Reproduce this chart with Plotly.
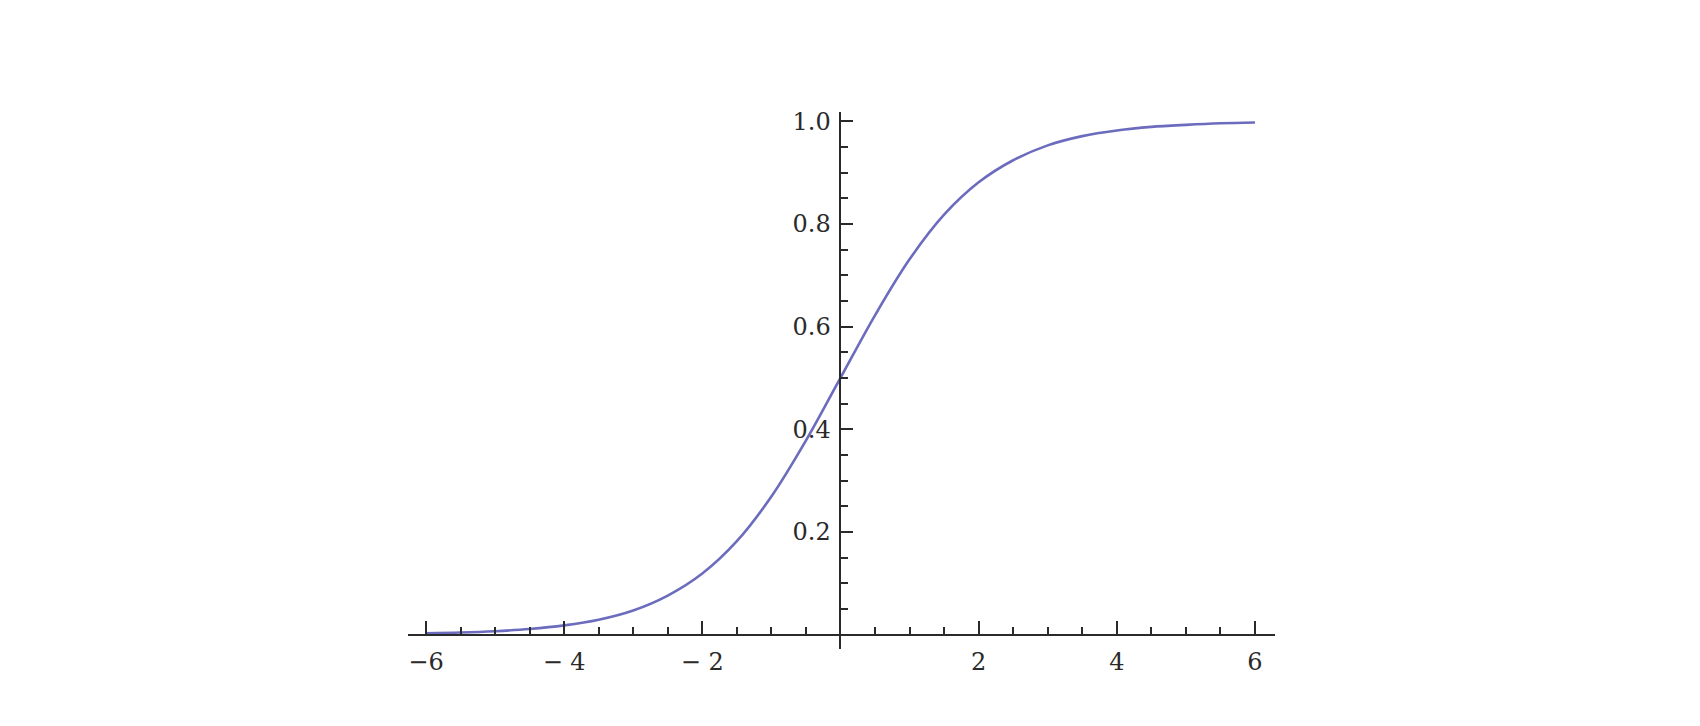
import plotly.graph_objects as go

# Curve values (logistic-shaped curve)
x_vals = [-6, -5.5, -5, -4.5, -4, -3.5, -3, -2.5, -2, -1.5, -1, -0.5, 0,
          0.5, 1, 1.5, 2, 2.5, 3, 3.5, 4, 4.5, 5, 5.5, 6]
y_vals = [0.0025, 0.004, 0.0067, 0.011, 0.018, 0.029, 0.047, 0.076, 0.119,
          0.182, 0.269, 0.378, 0.5, 0.622, 0.731, 0.818, 0.881, 0.924, 0.953,
          0.971, 0.982, 0.989, 0.993, 0.996, 0.9975]

x_tickvals = [-6, -4, -2, 2, 4, 6]
x_ticktext = ["\u22126", "\u2212 4", "\u2212 2", "2", "4", "6"]
y_tickvals = [0.2, 0.4, 0.6, 0.8, 1.0]
y_ticktext = ["0.2", "0.4", "0.6", "0.8", "1.0"]

x_range = [-6.26, 6.29]
y_range = [-0.028, 1.018]

fig = go.Figure()
fig.add_trace(go.Scatter(
    x=x_vals, y=y_vals, mode="lines",
    line=dict(color="#6c6cbe", width=2.6, shape="spline"),
    hoverinfo="skip", showlegend=False,
))

font = dict(family="DejaVu Serif", size=24, color="#2a2a2a")
axis_color = "#2a2a2a"

fig.update_layout(
    width=1700, height=726,
    margin=dict(l=400, r=433, t=104, b=85, autoexpand=False),
    paper_bgcolor="white", plot_bgcolor="white",
    xaxis=dict(
        range=x_range, showgrid=False, zeroline=False, automargin=False,
        showline=True, linecolor=axis_color, linewidth=2,
        anchor="free",
        position=(0 - y_range[0]) / (y_range[1] - y_range[0]),
        tickmode="array", tickvals=x_tickvals, ticktext=x_ticktext,
        ticks="inside", ticklen=13, tickwidth=2, tickcolor=axis_color,
        tickfont=font, ticklabelstandoff=6,
        minor=dict(ticks="inside", tick0=0, dtick=0.5, ticklen=7,
                   tickwidth=2, tickcolor=axis_color, showgrid=False),
    ),
    yaxis=dict(
        range=y_range, showgrid=False, zeroline=False, automargin=False,
        showline=True, linecolor=axis_color, linewidth=2,
        anchor="free",
        position=(0 - x_range[0]) / (x_range[1] - x_range[0]),
        tickmode="array", tickvals=y_tickvals, ticktext=y_ticktext,
        ticks="inside", ticklen=12, tickwidth=2, tickcolor=axis_color,
        tickfont=font, ticklabelstandoff=4,
        minor=dict(ticks="inside", tick0=0, dtick=0.05, ticklen=7,
                   tickwidth=2, tickcolor=axis_color, showgrid=False),
    ),
)

fig.write_html("out.html")
